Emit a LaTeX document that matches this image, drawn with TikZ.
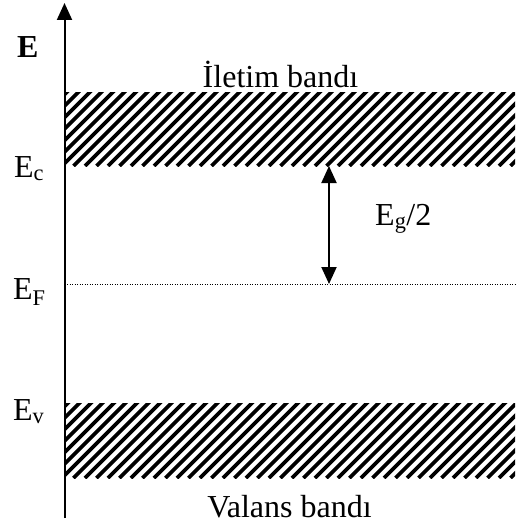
\documentclass[tikz,border=0pt]{standalone}
\usepackage{fontspec}
\setmainfont{Liberation Serif}
\usetikzlibrary{arrows.meta}

\begin{document}
\begin{tikzpicture}[x=1pt,y=-1pt,
  stripe/.style={line width=3.8pt},
  lbl/.style={font=\fontsize{32}{38}\selectfont,inner sep=0pt},
  Tri/.tip={Triangle[width=15pt,length=17pt]}]
  \useasboundingbox (0,0) rectangle (515,524);
  \begin{scope}
    \clip (65,93) rectangle (515,166);
    \foreach \k in {0,...,48} \draw[stripe] (\k*11.5-30,166) -- ++(90,-90);
  \end{scope}
  \begin{scope}
    \clip (65,403) rectangle (515,478);
    \foreach \k in {0,...,48} \draw[stripe] (\k*11.5-30,478) -- ++(90,-90);
  \end{scope}
  \coordinate (axbot) at (64.5,518);
  \coordinate (axtop) at (64.5,3);
  \draw[line width=2pt,-Tri] (axbot) -- (axtop);
  \coordinate (fl) at (67,284);
  \coordinate (fr) at (515,284);
  \draw[line width=0.9pt,dash pattern=on 1pt off 1.5pt] (fl) -- (fr);
  \coordinate (gtop) at (329,166);
  \coordinate (gbot) at (329,284);
  \draw[line width=2pt,Tri-Tri] (gtop) -- (gbot);
  \node[lbl,anchor=base west,font=\fontsize{32}{38}\selectfont\bfseries] (le) at (17,58) {E};
  \node[lbl,anchor=base west] (lec) at (14,177) {E\textsubscript{c}};
  \node[lbl,anchor=base west] (lef) at (13,299) {E\textsubscript{F}};
  \node[lbl,anchor=base west] (lev) at (13,420) {E\textsubscript{v}};
  \node[lbl,anchor=base west] (leg) at (375,225) {E\textsubscript{g}/2};
  \node[lbl,anchor=base] (lcb) at (280.5,88) {İletim bandı};
  \node[lbl,anchor=base] (lvb) at (289.5,517) {Valans bandı};
\end{tikzpicture}
\end{document}
